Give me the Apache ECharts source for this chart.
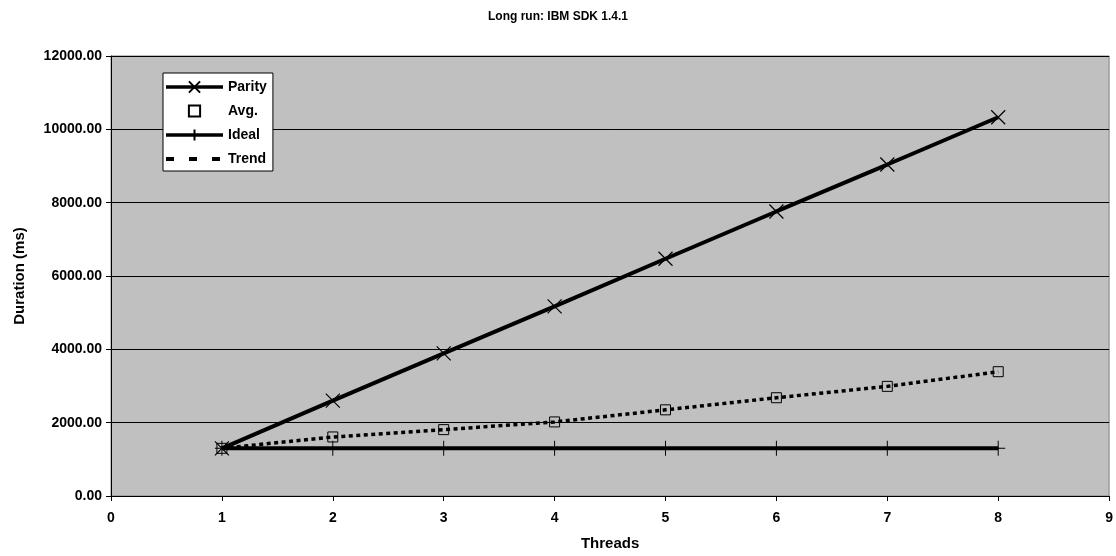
<!DOCTYPE html>
<html lang="en">
<head>
    <meta charset="UTF-8">
    <title>Long run: IBM SDK 1.4.1</title>
    <script src="https://cdn.jsdelivr.net/npm/echarts@6/dist/echarts.min.js"></script>
    <style>
        html, body { margin: 0; padding: 0; background: #fff; }
        #main { width: 1116px; height: 556px; }
    </style>
</head>
<body>
<div id="main"></div>
<script>
    // values
    var threads = [1, 2, 3, 4, 5, 6, 7, 8];
    var parity  = [1300, 2600, 3890, 5170, 6470, 7760, 9040, 10330];
    var avg     = [1300, 1610, 1810, 2020, 2350, 2680, 2990, 3390];
    var ideal   = [1300, 1300, 1300, 1300, 1300, 1300, 1300, 1300];
    var trend   = [1300, 1610, 1810, 2020, 2350, 2680, 2990, 3390];

    function pairs(ys) {
        return threads.map(function (t, i) { return [t, ys[i]]; });
    }

    var font = 'Liberation Sans, Arial, sans-serif';
    var crossPath = 'path://M0,0L10,10M10,0L0,10';
    var plusPath = 'path://M5,0L5,10M0,5L10,5';

    var myChart = echarts.init(document.getElementById('main'));

    var option = {
        animation: false,
        backgroundColor: '#ffffff',
        title: {
            text: 'Long run: IBM SDK 1.4.1',
            left: 'center',
            top: 6,
            textStyle: { fontFamily: font, fontSize: 12, fontWeight: 'bold', color: '#000' }
        },
        grid: {
            left: 111, right: 6, top: 56, bottom: 59,
            show: true,
            backgroundColor: '#c0c0c0',
            borderColor: '#808080',
            borderWidth: 1
        },
        legend: {
            orient: 'vertical',
            left: 163,
            top: 73,
            backgroundColor: '#ffffff',
            borderColor: '#000',
            borderWidth: 1,
            padding: [7, 6, 5, 1],
            itemWidth: 57,
            itemHeight: 14,
            itemGap: 10,
            textStyle: { fontFamily: font, fontSize: 14, fontWeight: 'bold', color: '#000' },
            data: [
                { name: 'Parity', lineStyle: { width: 3.5 } },
                { name: 'Avg.' },
                { name: 'Ideal', lineStyle: { width: 3.5 } },
                { name: 'Trend', itemStyle: { opacity: 0 }, lineStyle: { type: [8, 15], width: 4 } }
            ]
        },
        xAxis: {
            type: 'value',
            min: 0, max: 9, interval: 1,
            name: 'Threads',
            nameLocation: 'middle',
            nameGap: 40,
            nameTextStyle: { fontFamily: font, fontSize: 15, fontWeight: 'bold', color: '#000' },
            axisLine: { show: true, onZero: false, lineStyle: { color: '#000', width: 1 } },
            axisTick: { show: true, length: 5, lineStyle: { color: '#000' } },
            axisLabel: { fontFamily: font, fontSize: 14, fontWeight: 'bold', color: '#000', margin: 15 },
            splitLine: { show: false }
        },
        yAxis: {
            type: 'value',
            min: 0, max: 12000, interval: 2000,
            name: 'Duration (ms)',
            nameLocation: 'middle',
            nameGap: 84,
            nameRotate: 90,
            nameTextStyle: { fontFamily: font, fontSize: 15, fontWeight: 'bold', color: '#000' },
            axisLine: { show: true, lineStyle: { color: '#000', width: 1 } },
            axisTick: { show: true, length: 5, lineStyle: { color: '#000' } },
            axisLabel: {
                fontFamily: font, fontSize: 14, fontWeight: 'bold', color: '#000', margin: 9,
                formatter: function (v) { return v.toFixed(2); }
            },
            splitLine: { show: true, lineStyle: { color: '#000', width: 1 } }
        },
        series: [
            {
                name: 'Ideal',
                type: 'line',
                data: pairs(ideal),
                symbol: plusPath,
                symbolSize: [14, 15],
                lineStyle: { color: '#000', width: 4 },
                itemStyle: { color: 'transparent', borderColor: '#000', borderWidth: 1 },
                z: 2
            },
            {
                name: 'Trend',
                type: 'line',
                data: pairs(trend),
                symbol: 'none',
                lineStyle: { color: '#000', width: 3.5, type: [4, 3.5] },
                itemStyle: { color: '#000' },
                z: 3
            },
            {
                name: 'Avg.',
                type: 'line',
                data: pairs(avg),
                symbol: 'rect',
                symbolSize: 10,
                lineStyle: { opacity: 0 },
                itemStyle: { color: 'transparent', borderColor: '#000', borderWidth: 1 },
                z: 4
            },
            {
                name: 'Parity',
                type: 'line',
                data: pairs(parity),
                symbol: crossPath,
                symbolSize: 14,
                lineStyle: { color: '#000', width: 4 },
                itemStyle: { color: 'transparent', borderColor: '#000', borderWidth: 1.2 },
                z: 5
            }
        ]
    };

    myChart.setOption(option);
</script>
</body>
</html>
